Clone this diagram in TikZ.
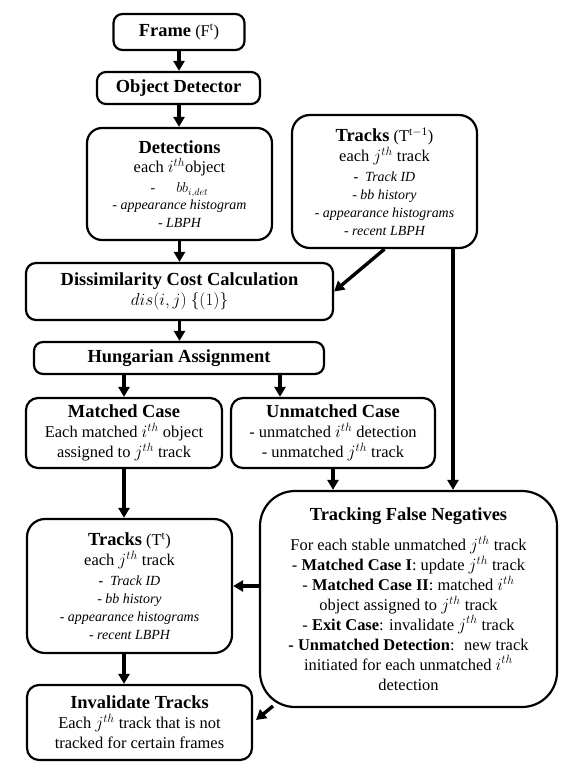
\documentclass[tikz,border=0pt]{standalone}
\usepackage{fontspec}
\setmainfont{Liberation Serif}
\usetikzlibrary{arrows.meta,calc}
\begin{document}
\begin{tikzpicture}[x=1bp,y=-1bp,
  box/.style={draw,line width=2.2bp,rounded corners=9bp,align=center,inner sep=0pt,
    font=\fontsize{16.5}{20}\selectfont},
  conn/.style={line width=3.4bp,-{Triangle[length=10bp,width=11bp]}},
]
\newcommand{\ttlf}{\fontsize{18.5}{20}\selectfont\bfseries}
\newcommand{\smf}{\fontsize{14}{17}\selectfont\itshape}
\useasboundingbox (0,0) rectangle (577,774);

\node[box,minimum width=131bp,minimum height=36bp] (frame) at (179,32)
  {{\ttlf Frame} (F\textsuperscript{t})};
\node[box,minimum width=163bp,minimum height=32bp] (det) at (178.5,88)
  {{\ttlf Object Detector}};
\node[box,rounded corners=15bp,minimum width=185bp,minimum height=112bp] (dets) at (179.5,184)
  {{\ttlf Detections}\\ each $i^{th}$object\\[0pt]
   {\smf -\quad\ \ $bb_{i,det}$}\\[-3pt]
   {\smf - appearance histogram}\\[-2pt]
   {\smf - LBPH}};
\node[box,rounded corners=18bp,minimum width=185bp,minimum height=133bp] (tprev) at (384.5,181.5)
  {{\ttlf Tracks} (T\textsuperscript{t$-$1})\\ each $j^{th}$ track\\[0pt]
   {\smf \textbf{\upshape -}\ \ Track ID}\\[-2pt]
   {\smf - bb history}\\[-2pt]
   {\smf - appearance histograms}\\[-2pt]
   {\smf - recent LBPH}};
\node[box,rounded corners=10bp,minimum width=307bp,minimum height=57bp] (dis) at (179.5,291.5)
  {{\ttlf Dissimilarity Cost Calculation}\\ $dis(i,j)\ \{(1)\}$};
\node[box,minimum width=290bp,minimum height=32bp] (hung) at (179,358)
  {{\ttlf Hungarian Assignment}};
\node[box,rounded corners=12bp,minimum width=196bp,minimum height=70bp] (matched) at (124,433)
  {{\ttlf Matched Case}\\ Each matched $i^{th}$ object\\ assigned to $j^{th}$ track};
\node[box,rounded corners=12bp,minimum width=204bp,minimum height=70bp] (unmatched) at (333,433)
  {{\ttlf Unmatched Case}\\ - unmatched $i^{th}$ detection\\ - unmatched $j^{th}$ track};
\node[box,rounded corners=35bp,minimum width=297bp,minimum height=216bp] (tfn) at (408.5,599)
  {{\ttlf Tracking False Negatives}\\[10pt]
   For each stable unmatched $j^{th}$ track\\
   - \textbf{Matched Case I}: update $j^{th}$ track\\
   - \textbf{Matched Case II}: matched $i^{th}$\\
   object assigned to $j^{th}$ track\\
   - \textbf{Exit Case}: invalidate $j^{th}$ track\\
   \textbf{- Unmatched Detection}: \ new track\\
   initiated for each unmatched $i^{th}$\\
   detection};
\node[box,rounded corners=18bp,minimum width=205bp,minimum height=134bp] (tcur) at (129.5,586)
  {{\ttlf Tracks} (T\textsuperscript{t})\\ each $j^{th}$ track\\[0pt]
   {\smf \textbf{\upshape -}\ \ Track ID}\\[-2pt]
   {\smf - bb history}\\[-2pt]
   {\smf - appearance histograms}\\[-2pt]
   {\smf - recent LBPH}};
\node[box,rounded corners=12bp,minimum width=225bp,minimum height=75bp] (inval) at (139.5,722.5)
  {{\ttlf Invalidate Tracks}\\ Each $j^{th}$ track that is not\\ tracked for certain frames};

\coordinate (a1) at (273,706);
\coordinate (a2) at (256,720);

\draw[conn] (frame.south) -- (frame.south |- det.north);
\draw[conn] (det.south -| frame.south) -- (frame.south |- dets.north);
\draw[conn] (dets.south) -- (dets.south |- dis.north);
\draw[conn] (tprev.south) -- (dis.east);
\draw[conn] (dis.south) -- (dis.south |- hung.north);
\draw[conn] (matched.north |- hung.south) -- (matched.north);
\draw[conn] ([xshift=-53bp]unmatched.north |- hung.south) -- ([xshift=-53bp]unmatched.north);
\draw[conn] (matched.south) -- (matched.south |- tcur.north);
\draw[conn] (unmatched.south) -- (unmatched.south |- tfn.north);
\draw[conn] ([xshift=68.5bp]tprev.south) -- ([xshift=68.5bp]tprev.south |- tfn.north);
\draw[conn] (tfn.west |- tcur.east) -- (tcur.east);
\draw[conn] (matched.south |- tcur.south) -- (matched.south |- inval.north);
\draw[conn] (a1) -- (a2);
\end{tikzpicture}
\end{document}
